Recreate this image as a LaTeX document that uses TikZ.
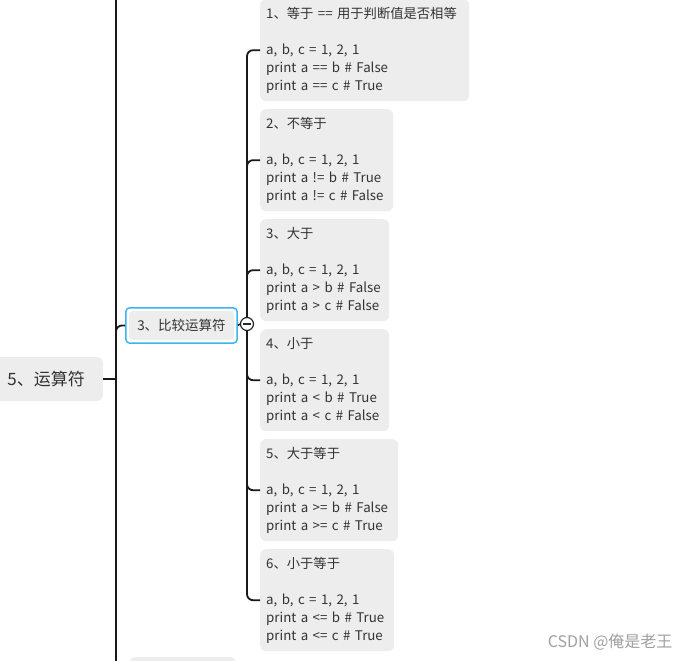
\documentclass[tikz,border=0pt]{standalone}
\usepackage{fontspec}
\usepackage{tikz}
\usetikzlibrary{positioning,fit}
\newfontfamily\cjk{Noto Sans CJK SC}
\definecolor{boxgray}{HTML}{EDEDED}
\definecolor{inkgray}{HTML}{333333}
\definecolor{selblue}{HTML}{3CB4F0}
\definecolor{markgray}{HTML}{A0A0A0}

\begin{document}
\begin{tikzpicture}[
x=1pt,y=-1pt,
Topic/.style={fill=boxgray,rounded corners=6pt,text=inkgray,font=\cjk\fontsize{17}{20}\selectfont,inner xsep=18pt,minimum height=44pt,anchor=east},
SubTopic/.style={fill=boxgray,rounded corners=4pt,text=inkgray,font=\cjk\fontsize{13.5}{16}\selectfont,minimum width=105pt,minimum height=29pt,inner sep=0pt},
Selected/.style={draw=selblue,line width=1.5pt,rounded corners=4pt,inner sep=3pt},
Leaf/.style={fill=boxgray,rounded corners=6pt,text=inkgray,font=\cjk\fontsize{13.3}{18}\selectfont,align=left,anchor=north west,inner xsep=6pt,inner ysep=7.5pt,minimum height=102pt},
Branch/.style={draw=black!90,line width=1.8pt,rounded corners=6pt},
Knob/.style={circle,draw=black!85,fill=white,line width=1.2pt,minimum size=13pt,inner sep=0pt,
  path picture={\draw[line width=1.2pt] (-3.8,0)--(3.8,0);}}
]
\useasboundingbox (0,0) rectangle (689,661);
\clip (0,0) rectangle (689,661);

% main spine and root topic
\coordinate (spinetop) at (116,-5);
\coordinate (spinebot) at (116,670);
\draw[Branch] (spinetop) -- (spinebot);
\node[Topic] (root) at (103,379) {5、运算符};
\draw[Branch] (root.east) -- (root.east -| spinetop);

% selected sub topic
\node[SubTopic] (sub) at (181.5,325.5) {3、比较运算符};
\node[Selected,fit=(sub)] (subframe) {};
\coordinate (subfork) at (116,336);
\draw[Branch] (subfork) |- (subframe.west);

% next sub topic, cut at the bottom
\node[SubTopic,anchor=north west,minimum height=30pt] (nextsub) at (130,657) {};

% leaves
\node[Leaf,text width=197pt] (c1) at (260,-1) {1、等于 == 用于判断值是否相等\\[18pt]a, b, c = 1, 2, 1\\print a == b \# False\\print a == c \# True};
\node[Leaf,text width=121pt] (c2) at (260,109) {2、不等于\\[18pt]a, b, c = 1, 2, 1\\print a != b \# True\\print a != c \# False};
\node[Leaf,text width=117pt] (c3) at (260,219) {3、大于\\[18pt]a, b, c = 1, 2, 1\\print a > b \# False\\print a > c \# False};
\node[Leaf,text width=117pt] (c4) at (260,329) {4、小于\\[18pt]a, b, c = 1, 2, 1\\print a < b \# True\\print a < c \# False};
\node[Leaf,text width=126pt] (c5) at (260,439) {5、大于等于\\[18pt]a, b, c = 1, 2, 1\\print a >= b \# False\\print a >= c \# True};
\node[Leaf,text width=122pt] (c6) at (260,549) {6、小于等于\\[18pt]a, b, c = 1, 2, 1\\print a <= b \# True\\print a <= c \# True};

% knob and branches
\node[Knob] (knob) at (247,324) {};
\draw[Branch,line width=1.4pt] (subframe.east) -- (knob.west);
\foreach \c in {c1,c2,c3}
  \draw[Branch] (knob.north) |- (\c.west);
\foreach \c in {c4,c5,c6}
  \draw[Branch] (knob.south) |- (\c.west);

% watermark
\node[text=markgray,font=\cjk\fontsize{16}{18}\selectfont,anchor=east] (mark) at (676,642) {CSDN @俺是老王};
\end{tikzpicture}
\end{document}
